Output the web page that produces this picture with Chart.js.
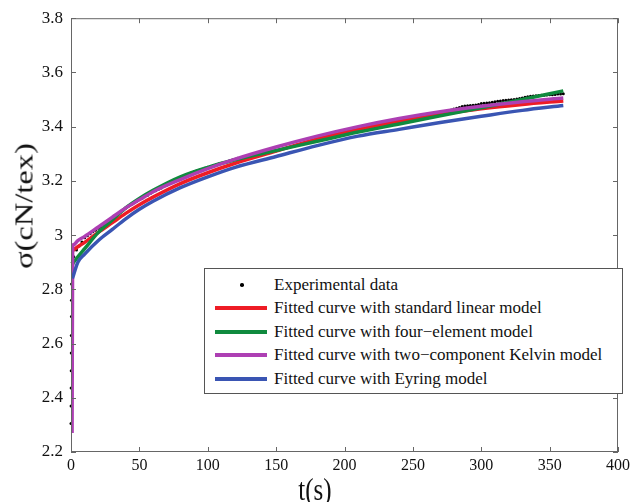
<!DOCTYPE html>
<html><head><meta charset="utf-8">
<script src="https://cdn.jsdelivr.net/npm/chart.js@4.4.1/dist/chart.umd.min.js"></script>
<style>
html,body{margin:0;padding:0;background:#fff;}
#wrap{position:relative;width:634px;height:502px;overflow:hidden;background:#fff;}
#c{position:absolute;left:0;top:0;}
.serif{font-family:"Liberation Serif","Times New Roman",Times,serif;color:#111;}
#ytitle{position:absolute;left:24px;top:206px;transform:translate(-50%,-50%) rotate(-90deg) scaleX(1.3);font-size:25px;white-space:nowrap;line-height:1;}
#xtitle{position:absolute;left:315px;top:489px;transform:translate(-50%,-50%) scaleY(1.25);font-size:25px;white-space:nowrap;line-height:1;}
#legend{position:absolute;left:204px;top:268px;width:419px;height:126px;box-sizing:border-box;border:1px solid #555;background:#fff;}
.row{position:absolute;left:0;width:100%;height:20px;}
.sw{position:absolute;left:10px;top:8px;width:52px;height:4px;}
.dot{position:absolute;left:35px;top:8px;width:3.5px;height:3.5px;border-radius:50%;background:#000;}
.lt{position:absolute;left:69px;top:0;font-size:17px;line-height:20px;white-space:nowrap;}
</style>
</head><body>
<div id="wrap">
<canvas id="c" width="634" height="502"></canvas>
<div id="ytitle" class="serif">σ(cN/tex)</div>
<div id="xtitle" class="serif">t(s)</div>
<div id="legend" class="serif"></div>
</div>
<script>
// ---- data ----
const xTicks = [0, 50, 100, 150, 200, 250, 300, 350, 400];
const yTicks = [2.2, 2.4, 2.6, 2.8, 3.0, 3.2, 3.4, 3.6, 3.8];
const yTickLabels = ['2.2', '2.4', '2.6', '2.8', '3', '3.2', '3.4', '3.6', '3.8'];

const seriesNames = [
  'Experimental data',
  'Fitted curve with standard linear model',
  'Fitted curve with four\u2212element model',
  'Fitted curve with two\u2212component Kelvin model',
  'Fitted curve with Eyring model'
];

// experimental data: initial loading points, then every 2 s
const expTimeStart = [0, 0.05, 0.1, 0.15, 0.2, 0.25, 0.3, 0.35, 0.4, 1];
const expValueStart = [2.305, 2.37, 2.436, 2.50, 2.565, 2.63, 2.70, 2.76, 2.82, 2.90];
const expStep = 2; // seconds between later samples (t = 2, 4, ..., 360)
const expValues = [
  2.920, 2.945, 2.960, 2.975, 2.990, 2.998, 3.005, 3.012, 3.018, 3.025,
  3.031, 3.037, 3.044, 3.052, 3.060, 3.068, 3.076, 3.084, 3.092, 3.100,
  3.107, 3.113, 3.119, 3.125, 3.131, 3.136, 3.141, 3.147, 3.153, 3.160,
  3.164, 3.169, 3.174, 3.180, 3.185, 3.190, 3.195, 3.200, 3.205, 3.210,
  3.215, 3.220, 3.224, 3.230, 3.234, 3.237, 3.240, 3.243, 3.247, 3.250,
  3.253, 3.256, 3.259, 3.262, 3.265, 3.268, 3.271, 3.274, 3.277, 3.280,
  3.283, 3.286, 3.289, 3.291, 3.293, 3.295, 3.296, 3.298, 3.300, 3.302,
  3.303, 3.305, 3.307, 3.309, 3.311, 3.314, 3.316, 3.319, 3.322, 3.324,
  3.327, 3.330, 3.332, 3.335, 3.338, 3.340, 3.343, 3.345, 3.348, 3.350,
  3.352, 3.355, 3.357, 3.359, 3.362, 3.364, 3.366, 3.369, 3.371, 3.373,
  3.375, 3.378, 3.380, 3.383, 3.385, 3.387, 3.389, 3.391, 3.393, 3.395,
  3.397, 3.399, 3.401, 3.403, 3.405, 3.407, 3.409, 3.411, 3.413, 3.415,
  3.417, 3.419, 3.421, 3.423, 3.425, 3.427, 3.429, 3.431, 3.433, 3.435,
  3.437, 3.439, 3.442, 3.444, 3.447, 3.450, 3.453, 3.457, 3.461, 3.465,
  3.468, 3.471, 3.474, 3.476, 3.477, 3.478, 3.479, 3.480, 3.482, 3.485,
  3.486, 3.487, 3.488, 3.490, 3.492, 3.494, 3.495, 3.496, 3.497, 3.498,
  3.499, 3.500, 3.502, 3.504, 3.506, 3.508, 3.510, 3.512, 3.513, 3.514,
  3.515, 3.516, 3.516, 3.517, 3.518, 3.518, 3.519, 3.520, 3.520, 3.521
];

const fitTime = [1, 2, 5, 10, 20, 30, 40, 50, 60, 80, 100, 120, 150, 180, 210, 240, 270, 300, 330, 360];
const standardLinear = [2.940, 2.946, 2.957, 2.973, 3.010, 3.045, 3.080, 3.112, 3.140, 3.190, 3.230, 3.265, 3.310, 3.355, 3.390, 3.420, 3.445, 3.466, 3.482, 3.495];
const fourElement   = [2.890, 2.900, 2.920, 2.950, 3.010, 3.055, 3.100, 3.135, 3.165, 3.215, 3.250, 3.278, 3.312, 3.346, 3.380, 3.410, 3.440, 3.470, 3.500, 3.532];
const eyring        = [2.840, 2.855, 2.900, 2.930, 2.980, 3.020, 3.060, 3.095, 3.125, 3.175, 3.215, 3.250, 3.290, 3.330, 3.365, 3.390, 3.415, 3.438, 3.460, 3.478];
const kelvinTime = [0.8, 1.2, 2, 5, 10, 20, 30, 40, 50, 60, 80, 100, 120, 150, 180, 210, 240, 270, 300, 330, 360];
const twoKelvin  = [2.270, 2.955, 2.965, 2.980, 2.995, 3.030, 3.065, 3.100, 3.130, 3.160, 3.205, 3.245, 3.280, 3.325, 3.365, 3.400, 3.430, 3.455, 3.475, 3.492, 3.506];

const colors = ['#000000', '#ee1c25', '#108a3e', '#ad3fb3', '#3a55b3'];

// ---- build datasets ----
const expPts = expTimeStart.map((t, i) => ({x: t, y: expValueStart[i]}))
  .concat(expValues.map((v, i) => ({x: (i + 1) * expStep, y: v})));
const toPts = (ts, vs) => ts.map((t, i) => ({x: t, y: vs[i]}));

function lineDs(label, pts, color, order) {
  return {label, data: pts, showLine: true, borderColor: color, backgroundColor: color,
    borderWidth: 3.5, pointRadius: 0, cubicInterpolationMode: 'monotone', order};
}

const datasets = [
  {label: seriesNames[0], data: expPts, showLine: false, pointRadius: 1.5, pointBorderWidth: 0,
   pointBackgroundColor: colors[0], backgroundColor: colors[0], borderColor: colors[0], order: 10, clip: false},
  lineDs(seriesNames[1], toPts(fitTime, standardLinear), colors[1], 4),
  lineDs(seriesNames[2], toPts(fitTime, fourElement), colors[2], 3),
  lineDs(seriesNames[3], toPts(kelvinTime, twoKelvin), colors[3], 2),
  lineDs(seriesNames[4], toPts(fitTime, eyring), colors[4], 1)
];

// ---- frame with inward ticks (MATLAB style box) ----
const framePlugin = {
  id: 'frame',
  afterDraw(chart) {
    const {ctx, chartArea: a, scales: {x, y}} = chart;
    ctx.save();
    ctx.strokeStyle = '#666';
    ctx.lineWidth = 1;
    ctx.strokeRect(a.left + 0.5, a.top + 0.5, a.right - a.left - 1, a.bottom - a.top - 1);
    ctx.beginPath();
    const L = 5;
    xTicks.forEach(v => {
      const px = Math.round(x.getPixelForValue(v)) + 0.5;
      ctx.moveTo(px, a.bottom); ctx.lineTo(px, a.bottom - L);
      ctx.moveTo(px, a.top); ctx.lineTo(px, a.top + L);
    });
    yTicks.forEach(v => {
      const py = Math.round(y.getPixelForValue(v)) + 0.5;
      ctx.moveTo(a.left, py); ctx.lineTo(a.left + L, py);
      ctx.moveTo(a.right, py); ctx.lineTo(a.right - L, py);
    });
    ctx.stroke();
    ctx.restore();
  }
};

const fontFamily = '"Liberation Serif", "Times New Roman", Times, serif';

new Chart(document.getElementById('c'), {
  type: 'scatter',
  data: {datasets},
  options: {
    responsive: false,
    devicePixelRatio: 1,
    animation: false,
    layout: {padding: {top: 15, right: 9, left: 0, bottom: 0}},
    plugins: {legend: {display: false}, tooltip: {enabled: false}},
    scales: {
      x: {
        type: 'linear', min: 0, max: 400,
        afterBuildTicks: s => { s.ticks = xTicks.map(v => ({value: v})); },
        afterFit: s => { s.height = 50; },
        grid: {display: false, drawTicks: false},
        border: {display: false},
        ticks: {font: {family: fontFamily, size: 16}, color: '#111', padding: 4, maxRotation: 0, autoSkip: false}
      },
      y: {
        type: 'linear', min: 2.2, max: 3.8,
        afterBuildTicks: s => { s.ticks = yTicks.map(v => ({value: v})); },
        afterFit: s => { s.width = 71; },
        grid: {display: false, drawTicks: false},
        border: {display: false},
        ticks: {font: {family: fontFamily, size: 17}, color: '#111', padding: 8, autoSkip: false,
                callback: (v, i) => yTickLabels[i]}
      }
    }
  },
  plugins: [framePlugin]
});

// ---- legend (HTML overlay) ----
const legend = document.getElementById('legend');
const rowTops = [6, 29, 53, 76, 100];
datasets.forEach((ds, i) => {
  const row = document.createElement('div');
  row.className = 'row';
  row.style.top = rowTops[i] + 'px';
  const mark = document.createElement('div');
  if (i === 0) { mark.className = 'dot'; }
  else { mark.className = 'sw'; mark.style.background = colors[i]; }
  row.appendChild(mark);
  const txt = document.createElement('div');
  txt.className = 'lt';
  txt.textContent = ds.label;
  row.appendChild(txt);
  legend.appendChild(row);
});
</script>
</body></html>
